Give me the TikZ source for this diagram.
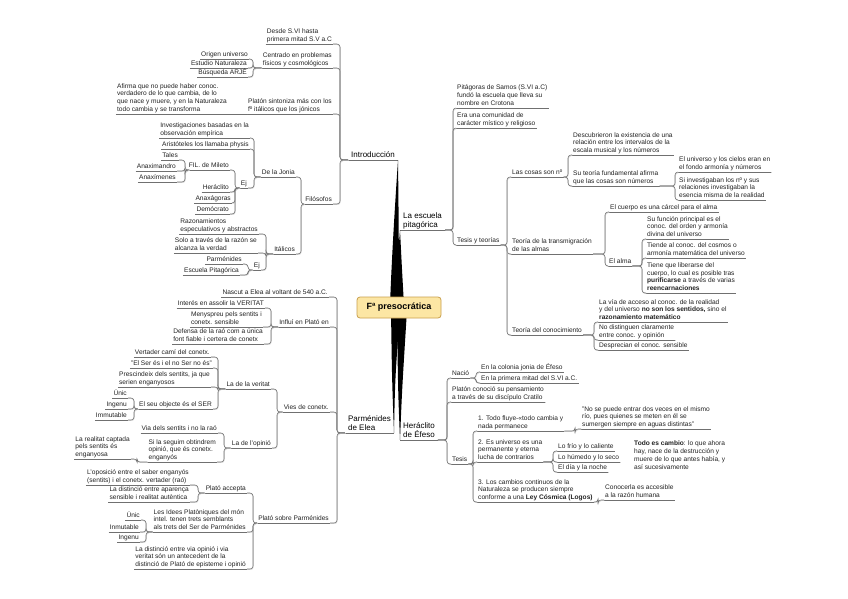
\documentclass[tikz,border=0pt]{standalone}
\usepackage{fontspec}
\setmainfont{Liberation Sans}
\usetikzlibrary{calc}
\definecolor{rootfill}{HTML}{FCE6A4}
\definecolor{rootdraw}{HTML}{C9A04E}
\definecolor{linec}{HTML}{707070}
\definecolor{shadc}{HTML}{CFCFCF}
\definecolor{txt}{HTML}{222222}
\newcommand\conR[3]{\foreach \ch in {#3}{\draw[conn] (#1.south east) -- ($(#1.south west)+(#2,0)$) |- (\ch.south west);}}
\newcommand\conL[3]{\foreach \ch in {#3}{\draw[conn] (#1.south west) -- ($(#1.south east)+(-#2,0)$) |- (\ch.south east);}}
\begin{document}
\begin{tikzpicture}[x=1pt,y=-1pt,
  uline/.style={draw=linec, line width=0.55pt, preaction={draw=shadc, line width=0.55pt, transform canvas={shift={(0.4pt,-0.7pt)}}}},
  conn/.style={uline, rounded corners=3pt},
  t/.style={font=\fontsize{6.6}{7.8}\selectfont, text=txt, align=left, inner xsep=1pt, inner ysep=0.6pt, text depth=1.6pt,
    append after command={(\tikzlastnode.south west) edge[uline] (\tikzlastnode.south east)}},
  m/.style={t, font=\fontsize{8}{9.2}\selectfont, text=black, inner xsep=3pt},
  note/.style={font=\fontsize{6.6}{7.8}\selectfont, text=txt, align=left, inner sep=1pt},
  wedge/.style={fill=black}]
\fill[white] (0,0) rectangle (848,599);
\useasboundingbox (0,0) rectangle (848,599);

% ---------- main labels ----------
\node[m, anchor=south east] (intro) at (398,160) {Introducción};
\node[m, anchor=south west] (pita) at (400,230) {La escuela\\pitagórica};
\node[m, anchor=south east] (parm) at (394,433) {Parménides\\de Elea};
\node[m, anchor=south west] (hera) at (400,440) {Heráclito\\de Éfeso};

% ---------- wedges ----------
\fill[wedge] (390,305) .. controls (392,250) and (396,190) .. (intro.south east) .. controls (398.5,200) and (399,260) .. (399,305) -- cycle;
\fill[wedge] (395,305) .. controls (397,270) .. (pita.south west) .. controls (402,270) .. (404,305) -- cycle;
\fill[wedge] (391,310) .. controls (392,380) .. (parm.south east) .. controls (395,380) .. (400,310) -- cycle;
\fill[wedge] (397,310) .. controls (398,390) .. (hera.south west) .. controls (402,390) .. (407,310) -- cycle;

\node[draw=rootdraw, fill=rootfill, rounded corners=3pt, line width=0.8pt, font=\bfseries\fontsize{9}{10}\selectfont, minimum width=84pt, minimum height=21pt, inner sep=1pt] (root) at (399,307.5) {Fª presocrática};

% ---------- Introducción ----------
\node[t, anchor=south east] (i1) at (333,44) {Desde S.VI hasta\\primera mitad S.V a.C};
\node[t, anchor=south east] (i2) at (333,68) {Centrado en problemas\\físicos y cosmológicos};
\node[t, anchor=south east] (i2a) at (249,59) {Origen universo};
\node[t, anchor=south east] (i2b) at (248,68) {Estudio Naturaleza};
\node[t, anchor=south east] (i2c) at (248,77) {Búsqueda ARJÉ};
\node[t, anchor=south east] (i3) at (333,114) {Platón sintoniza más con los\\fº itálicos que los jónicos};
\node[t, anchor=south east] (i3a) at (228,114) {Afirma que no puede haber conoc.\\verdadero de lo que cambia, de lo\\que nace y muere, y en la Naturaleza\\todo cambia y se transforma};
\node[t, anchor=south east] (fil) at (333,204) {Filósofos};
\node[t, anchor=south east] (jonia) at (296,177) {De la Jonia};
\node[t, anchor=south east] (ital) at (296,254) {Itálicos};
\node[t, anchor=south east] (j1) at (250,138) {Investigaciones basadas en la\\observación empírica};
\node[t, anchor=south east] (j2) at (250,149) {Aristóteles los llamaba physis};
\node[t, anchor=south east] (ej1) at (248,188) {Ej};
\node[t, anchor=south east] (mil) at (230,170) {FIL. de Mileto};
\node[t, anchor=south east] (tales) at (179,160) {Tales};
\node[t, anchor=south east] (anaxd) at (177,171) {Anaximandro};
\node[t, anchor=south east] (anaxm) at (177,182) {Anaxímenes};
\node[t, anchor=south east] (herac) at (230,192) {Heráclito};
\node[t, anchor=south east] (anaxg) at (232,203) {Anaxágoras};
\node[t, anchor=south east] (demo) at (230,214) {Demócrato};
\node[t, anchor=south east] (t1) at (259,234) {Razonamientos\\especulativos y abstractos};
\node[t, anchor=south east] (t2) at (258,253) {Solo a través de la razón se\\alcanza la verdad};
\node[t, anchor=south east] (ej2) at (261,270) {Ej};
\node[t, anchor=south east] (parmd) at (243,264) {Parménides};
\node[t, anchor=south east] (escp) at (240,275) {Escuela Pitagórica};

\conL{intro}{58}{i1,i2,i3,fil}
\conL{i2}{80}{i2a,i2b,i2c}
\draw[conn] (i3.south west) -- (i3a.south east);
\conL{fil}{32}{jonia,ital}
\conL{jonia}{42}{j1,j2,ej1}
\conL{ej1}{13}{mil,herac,anaxg,demo}
\conL{mil}{45}{tales,anaxd,anaxm}
\conL{ital}{30}{t1,t2,ej2}
\conL{ej2}{13}{parmd,escp}

% ---------- Parménides ----------
\node[t, anchor=south east] (p1) at (329,297) {Nascut a Elea al voltant de 540 a.C.};
\node[t, anchor=south east] (p2) at (330,327) {Influí en Plató en};
\node[t, anchor=south east] (p3) at (330,412) {Vies de conetx.};
\node[t, anchor=south east] (p4) at (330,523) {Plató sobre Parménides};
\node[t, anchor=south east] (p2a) at (265,308) {Interés en assolir la VERITAT};
\node[t, anchor=south east] (p2b) at (263,327) {Menyspreu pels sentits i\\conetx. sensible};
\node[t, anchor=south east] (p2c) at (264,344) {Defensa de la raó com a única\\font fiable i certera de conetx};
\node[t, anchor=south east] (ver) at (271,389) {La de la veritat};
\node[t, anchor=south east] (opi) at (272,448) {La de l'opinió};
\node[t, anchor=south east] (v1) at (211,357) {Vertader camí del conetx.};
\node[t, anchor=south east] (v2) at (213,368) {"El Ser és i el no Ser no és"};
\node[t, anchor=south east] (v3) at (211,387) {Prescindeix dels sentits, ja que\\serien enganyosos};
\node[t, anchor=south east] (v4) at (213,409) {El seu objecte és el SER};
\node[t, anchor=south east] (v4a) at (128,398) {Únic};
\node[t, anchor=south east] (v4b) at (128,409) {Ingenu};
\node[t, anchor=south east] (v4c) at (128,420) {Immutable};
\node[t, anchor=south east] (o1) at (218,433) {Via dels sentits i no la raó};
\node[t, anchor=south east] (o2) at (217,462) {Si la seguim obtindrem\\opinió, que és conetx.\\enganyós};
\node[t, anchor=south east] (o2a) at (131,459) {La realitat captada\\pels sentits és\\enganyosa};
\node[t, anchor=south east] (pa) at (247,493) {Plató accepta};
\node[t, anchor=south east] (pi) at (247,532) {Les Idees Platòniques del món\\intel. tenen trets semblants\\als trets del Ser de Parménides};
\node[t, anchor=south east] (pd) at (247,569) {La distinció entre via opinió i via\\veritat són un antecedent de la\\distinció de Plató de episteme i opinió};
\node[t, anchor=south east] (pa1) at (190,485) {L'oposició entre el saber enganyós\\(sentits) i el conetx. vertader (raó)};
\node[t, anchor=south east] (pa2) at (190,502) {La distinció entre aparença\\sensible i realitat autèntica};
\node[t, anchor=south east] (pi1) at (141,520) {Únic};
\node[t, anchor=south east] (pi2) at (140,532) {Inmutable};
\node[t, anchor=south east] (pi3) at (140,542) {Ingenu};

\conL{parm}{57}{p1,p2,p3,p4}
\conL{p2}{59}{p2a,p2b,p2c}
\conL{p3}{53}{ver,opi}
\conL{ver}{53}{v1,v2,v3,v4}
\conL{v4}{79}{v4a,v4b,v4c}
\conL{opi}{48}{o1,o2}
\conL{o2}{80}{o2a}
\conL{p4}{77}{pa,pi,pd}
\conL{pa}{49}{pa1,pa2}
\conL{pi}{101}{pi1,pi2,pi3}

% ---------- Escuela pitagórica ----------
\node[t, anchor=south west] (pt1) at (456,108) {Pitágoras de Samos (S.VI a.C)\\fundó la escuela que lleva su\\nombre en Crotona};
\node[t, anchor=south west] (pt2) at (456,128) {Era una comunidad de\\carácter místico y religioso};
\node[t, anchor=south west] (tt) at (456,245) {Tesis y teorías};
\node[t, anchor=south west] (cos) at (511,177) {Las cosas son nº};
\node[t, anchor=south west] (tra) at (511,254) {Teoría de la transmigración\\de las almas};
\node[t, anchor=south west] (tco) at (511,335) {Teoría del conocimiento};
\node[t, anchor=south west] (c1) at (572,155) {Descubrieron la existencia de una\\relación entre los intervalos de la\\escala musical y los números};
\node[t, anchor=south west] (c2) at (572,186) {Su teoría fundamental afirma\\que las cosas son números};
\node[t, anchor=south west] (c2a) at (678,172) {El universo y los cielos eran en\\el fondo armonía y números};
\node[t, anchor=south west] (c2b) at (678,200) {Si investigaban los nº y sus\\relaciones investigaban la\\esencia misma de la realidad};
\node[t, anchor=south west] (tr1) at (609,212) {El cuerpo es una cárcel para el alma};
\node[t, anchor=south west] (alma) at (608,266) {El alma};
\node[t, anchor=south west] (al1) at (646,239) {Su función principal es el\\conoc. del orden y armonía\\divina del universo};
\node[t, anchor=south west] (al2) at (646,258) {Tiende al conoc. del cosmos o\\armonía matemática del universo};
\node[t, anchor=south west] (al3) at (646,293) {Tiene que liberarse del\\cuerpo, lo cual es posible tras\\\textbf{purificarse} a través de varias\\\textbf{reencarnaciones}};
\node[t, anchor=south west] (k1) at (598,322) {La vía de acceso al conoc. de la realidad\\y del universo \textbf{no son los sentidos,} sino el\\\textbf{razonamiento matemático}};
\node[t, anchor=south west] (k2) at (598,340) {No distinguen claramente\\entre conoc. y opinión};
\node[t, anchor=south west] (k3) at (598,350) {Desprecian el conoc. sensible};

\conR{pita}{53}{pt1,pt2,tt}
\conR{tt}{51}{cos,tra,tco}
\conR{cos}{57}{c1,c2}
\conR{c2}{103}{c2a,c2b}
\conR{tra}{94}{tr1,alma}
\conR{alma}{34}{al1,al2,al3}
\conR{tco}{83}{k1,k2,k3}

% ---------- Heráclito ----------
\node[t, anchor=south west] (nac) at (451,378) {Nació};
\node[t, anchor=south west] (crat) at (451,402) {Platón conoció su pensamiento\\a través de su discípulo Cratilo};
\node[t, anchor=south west] (tes) at (451,464) {Tesis};
\node[t, anchor=south west] (n1) at (480,372) {En la colonia jonia de Éfeso};
\node[t, anchor=south west] (n2) at (480,383) {En la primera mitad del S.VI a.C.};
\node[t, anchor=south west] (h1) at (477,431) {1. Todo fluye-«todo cambia y\\nada permanece};
\node[t, anchor=south west] (h2) at (477,462) {2. Es universo es una\\permanente y eterna\\lucha de contrarios};
\node[t, anchor=south west] (h3) at (477,502) {3. Los cambios continuos de la\\Naturaleza se producen siempre\\conforme a una \textbf{Ley Cósmica (Logos)}};
\node[t, anchor=south west] (h1a) at (581,429) {"No se puede entrar dos veces en el mismo\\río, pues quienes se meten en él se\\sumergen siempre en aguas distintas"};
\node[t, anchor=south west] (h2a) at (557,451) {Lo frío y lo caliente};
\node[t, anchor=south west] (h2b) at (557,462) {Lo húmedo y lo seco};
\node[t, anchor=south west] (h2c) at (557,472) {El día y la noche};
\node[note, anchor=north west] (note) at (633,440) {\textbf{Todo es cambio}: lo que ahora\\hay, nace de la destrucción y\\muere de lo que antes había, y\\así sucesivamente};
\node[t, anchor=south west] (h3a) at (604,500) {Conocerla es accesible\\a la razón humana};

\conR{hera}{47}{nac,crat,tes}
\conR{nac}{25}{n1,n2}
\conR{tes}{22}{h1,h2,h3}
\conR{h1}{98}{h1a}
\conR{h2}{76}{h2a,h2b,h2c}
\conR{h3}{121}{h3a}
\end{tikzpicture}
\end{document}
